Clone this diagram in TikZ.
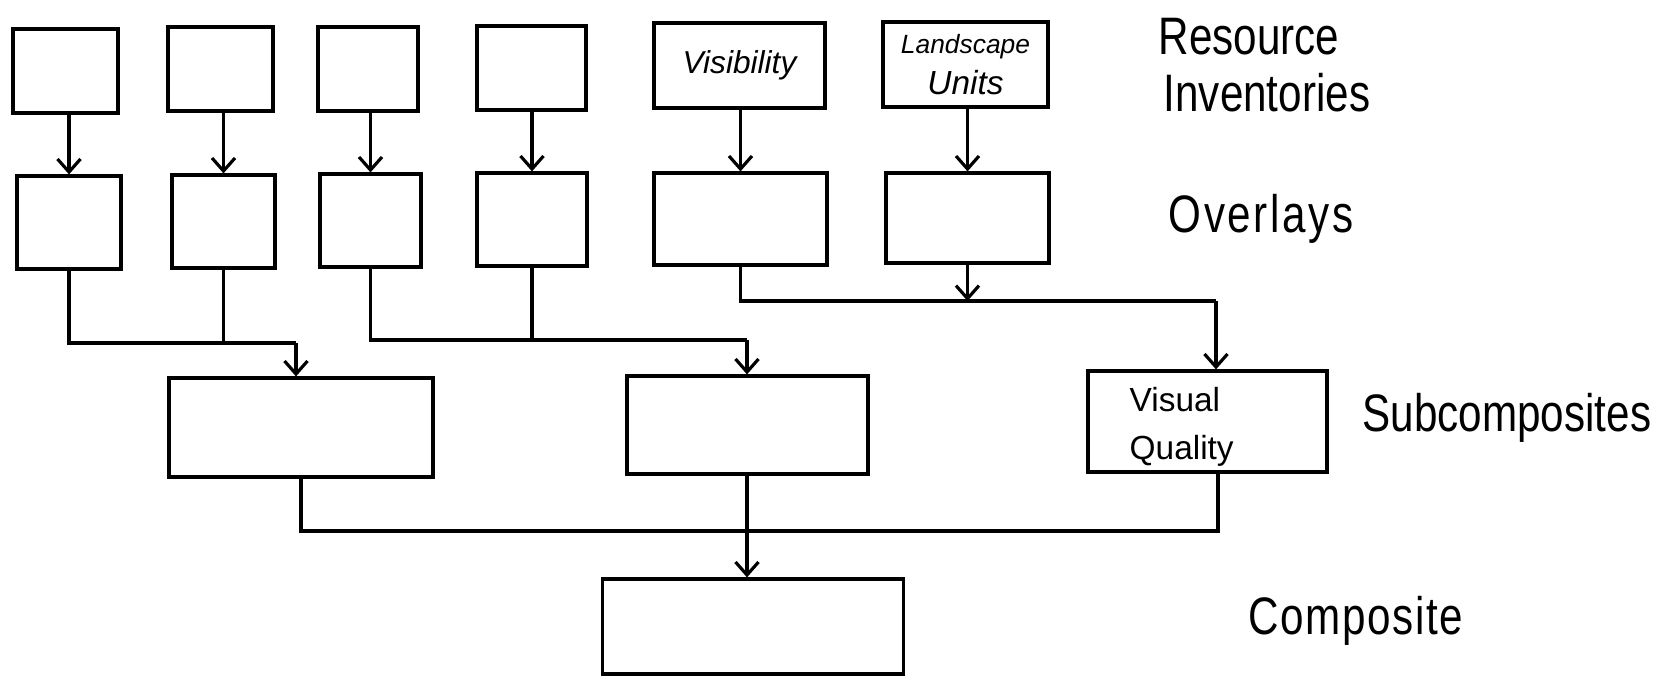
\documentclass[tikz,border=0pt]{standalone}
\usepackage{fontspec}
\setmainfont{Liberation Sans}
\newfontfamily\handfont[FakeStretch=0.8]{Liberation Sans}
\usetikzlibrary{arrows.meta}
\tikzset{
  box/.style={draw, line width=0.9pt, inner sep=0pt, rectangle},
  link/.style={line width=0.9pt},
  arr/.style={line width=0.9pt, -{Straight Barb[length=1.3mm,width=2.3mm,line width=0.9pt]}},
  lab/.style={anchor=base west, inner sep=0pt, font=\handfont\fontsize{15}{17}\selectfont},
  intext/.style={inner sep=0pt}
}
\begin{document}
\begin{tikzpicture}[x=0.01cm,y=-0.01cm]
\useasboundingbox (0,0) rectangle (1653,676);
% Resource inventories
\node[box, minimum width=1.05cm, minimum height=0.84cm] (B1) at (65.5,71) {};
\node[box, minimum width=1.05cm, minimum height=0.84cm] (B2) at (220.5,69) {};
\node[box, minimum width=1.00cm, minimum height=0.84cm] (B3) at (368,69) {};
\node[box, minimum width=1.09cm, minimum height=0.84cm] (B4) at (531.5,68) {};
\node[box, minimum width=1.71cm, minimum height=0.85cm, font=\fontsize{9}{10}\selectfont\itshape] (B5) at (739.5,65.5) {Visibility};
\node[box, minimum width=1.65cm, minimum height=0.85cm, align=center, font=\fontsize{7.5}{11.7}\selectfont\itshape] (B6) at (965.5,64.5) {Landscape\\{\fontsize{9.5}{11.7}\selectfont Units}};
% Overlays
\node[box, minimum width=1.04cm, minimum height=0.93cm] (O1) at (69,222.5) {};
\node[box, minimum width=1.03cm, minimum height=0.93cm] (O2) at (223.5,221.5) {};
\node[box, minimum width=1.01cm, minimum height=0.93cm] (O3) at (370.5,220.5) {};
\node[box, minimum width=1.10cm, minimum height=0.93cm] (O4) at (532,219.5) {};
\node[box, minimum width=1.73cm, minimum height=0.92cm] (O5) at (740.5,219) {};
\node[box, minimum width=1.63cm, minimum height=0.90cm] (O6) at (967.5,218) {};
% Subcomposites
\node[box, minimum width=2.64cm, minimum height=0.99cm] (S1) at (301,427.5) {};
\node[box, minimum width=2.41cm, minimum height=0.98cm] (S2) at (747.5,425) {};
\node[box, minimum width=2.39cm, minimum height=1.01cm] (S3) at (1207.5,421.5) {};
\node[intext, anchor=base west, font=\fontsize{9.5}{13.6}\selectfont] (vqtext) at (1129,411.5)
  {\begin{tabular}[t]{@{}l@{}}Visual\\Quality\end{tabular}};
% Composite
\node[box, minimum width=3.00cm, minimum height=0.95cm] (C) at (753,626.5) {};
% Arrows row 1 -> row 2
\foreach \i in {1,...,6}{
  \draw[arr] (O\i.north |- B\i.south) -- (O\i.north);
}
% Junction coordinates
\coordinate (j1) at (296,343);
\coordinate (j2) at (747,340);
\coordinate (j3) at (1216,301);
\coordinate (j4) at (1218,531);
% Overlays -> subcomposites
\draw[link] (O1.south) |- (j1);
\draw[link] (O2.south) -- (O2.south |- j1);
\draw[arr] (j1) -- (j1 |- S1.north);
\draw[link] (O3.south) |- (j2);
\draw[link] (O4.south) -- (O4.south |- j2);
\draw[arr] (j2) -- (j2 |- S2.north);
\draw[link] (O5.south) |- (j3);
\draw[arr] (O6.south) -- (O6.south |- j3);
\draw[arr] (j3) -- (j3 |- S3.north);
% Subcomposites -> composite
\draw[link] (S1.south) |- (j4) -- (j4 |- S3.south);
\draw[arr] (j2 |- S2.south) -- (j2 |- C.north);
% Level labels
\node[lab] (l1) at (1158,55) {Resource};
\node[lab] (l2) at (1163,112) {Inventories};
\node[lab] (l3) at (1168,233) {\addfontfeature{LetterSpace=5}Overlays};
\node[lab] (l4) at (1362,432) {Subcomposites};
\node[lab] (l5) at (1248,635) {\addfontfeature{LetterSpace=3}Composite};
\end{tikzpicture}
\end{document}
